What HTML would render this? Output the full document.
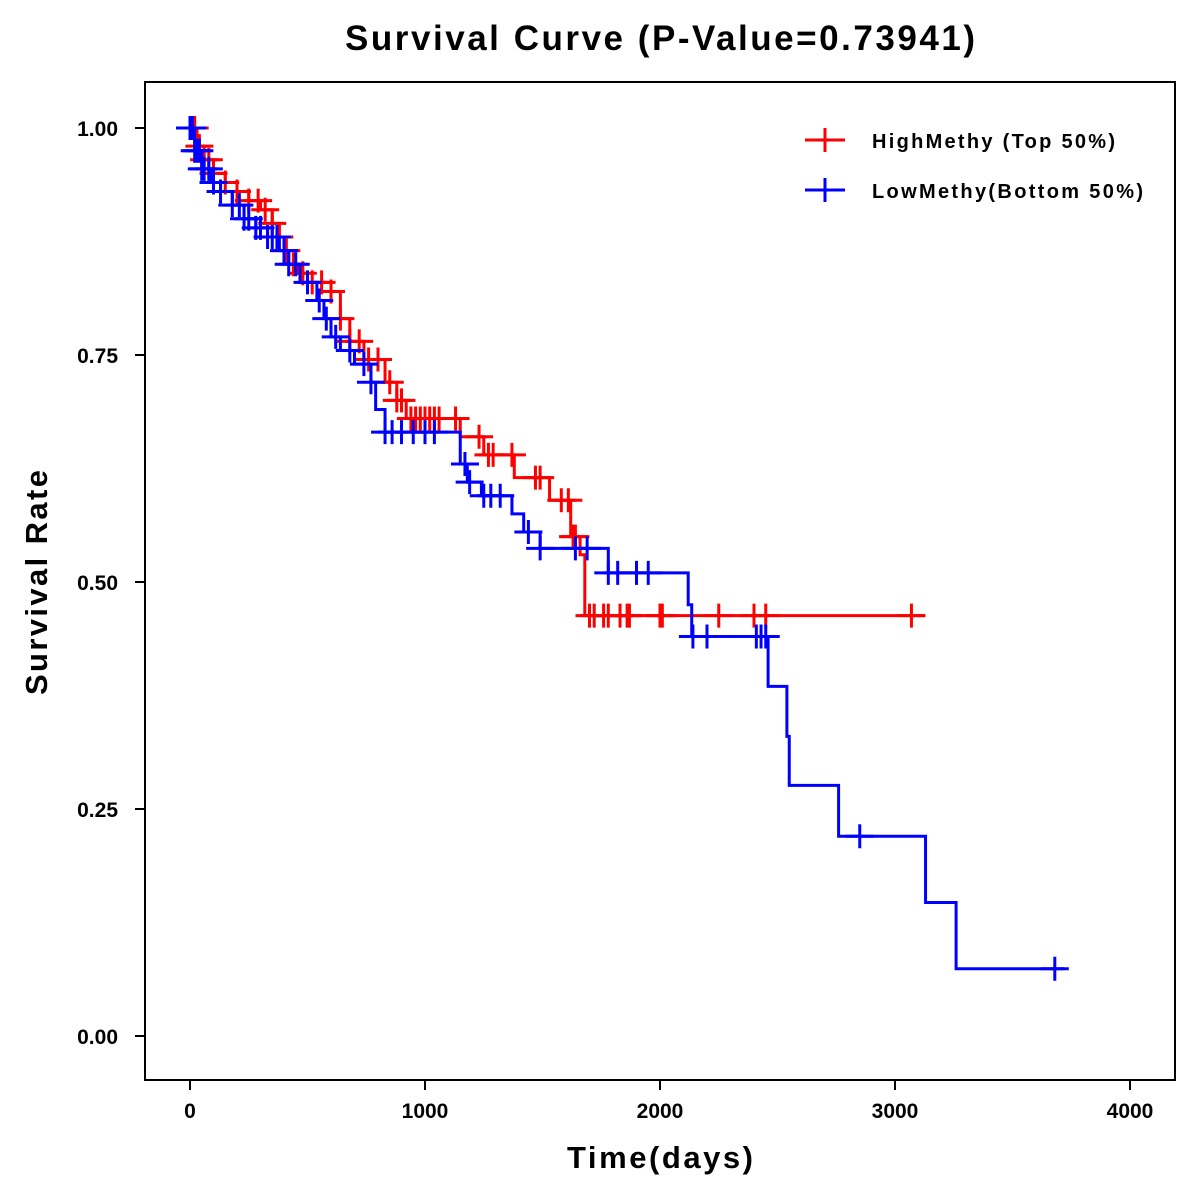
<!DOCTYPE html>
<html><head><meta charset="utf-8"><style>
html,body{margin:0;padding:0;background:#fff;}
svg{display:block;font-family:"Liberation Sans",Arial,sans-serif;font-weight:bold;}
</style></head><body>
<svg id="chart" width="1200" height="1200" viewBox="0 0 1200 1200" xmlns="http://www.w3.org/2000/svg">
<rect width="1200" height="1200" fill="#fff"/>
<text x="345" y="50" font-size="35" textLength="630" lengthAdjust="spacing">Survival Curve (P-Value=0.73941)</text>
<rect x="145" y="82" width="1030" height="998" fill="none" stroke="#000" stroke-width="2"/>
<g id="axes"></g>
<g id="series"></g>
<text x="567" y="1168" font-size="31" textLength="186" lengthAdjust="spacing">Time(days)</text>
<text transform="translate(47,695) rotate(-90)" font-size="31" textLength="225" lengthAdjust="spacing">Survival Rate</text>
<g>
<g>
<line x1="805" y1="140" x2="845" y2="140" stroke="#f00" stroke-width="3"/>
<line x1="825" y1="128" x2="825" y2="152" stroke="#f00" stroke-width="3"/>
<text x="872" y="148" font-size="20" textLength="243" lengthAdjust="spacing">HighMethy (Top 50%)</text></g>
<g>
<line x1="805" y1="190" x2="845" y2="190" stroke="#00f" stroke-width="3"/>
<line x1="825" y1="178" x2="825" y2="202" stroke="#00f" stroke-width="3"/>
<text x="872" y="198" font-size="20" textLength="271" lengthAdjust="spacing">LowMethy(Bottom 50%)</text></g>
</g>
</svg>
<script>
const xTicks=[0,1000,2000,3000,4000];
const yTicks=[0,0.25,0.5,0.75,1.0];
const yTickLabels=["0.00","0.25","0.50","0.75","1.00"];
const highTimes=[0,30,60,100,150,200,250,300,350,380,400,420,460,500,600,640,680,740,830,880,920,1150,1250,1380,1530,1620,1660,1680,3128];
const highSurv=[1.0,0.98,0.965,0.95,0.94,0.93,0.92,0.91,0.895,0.88,0.865,0.85,0.84,0.83,0.82,0.79,0.765,0.745,0.72,0.70,0.68,0.66,0.64,0.615,0.59,0.55,0.53,0.463,0.463];
const highCensor=[20,40,60,80,100,150,200,250,290,320,350,380,410,440,480,520,560,600,640,680,720,760,800,850,880,900,940,960,980,1000,1020,1040,1060,1130,1230,1270,1290,1370,1470,1490,1580,1610,1630,1640,1700,1720,1760,1780,1830,1860,1870,2000,2010,2250,2400,2450,3070];
const lowTimes=[0,20,50,90,130,180,230,280,330,380,420,468,540,570,600,640,700,770,790,830,1150,1180,1240,1370,1420,1490,1780,2120,2135,2460,2540,2550,2760,3130,3260,3720];
const lowSurv=[1.0,0.975,0.955,0.94,0.93,0.915,0.9,0.89,0.88,0.865,0.85,0.83,0.81,0.79,0.77,0.755,0.74,0.72,0.69,0.665,0.63,0.61,0.595,0.575,0.555,0.537,0.51,0.475,0.44,0.385,0.33,0.276,0.22,0.147,0.074,0.074];
const lowCensor=[0,10,20,30,40,50,60,80,100,130,180,210,230,250,280,300,330,350,370,400,420,450,500,550,580,620,680,740,770,830,860,900,950,1000,1040,1170,1190,1250,1280,1320,1440,1490,1640,1690,1780,1820,1900,1950,2140,2200,2410,2430,2450,2850,3680];

const NS="http://www.w3.org/2000/svg";
const x=d=>190+d*0.235;
const y=s=>1036-s*908;
function mk(tag,attrs,parent){const e=document.createElementNS(NS,tag);for(const k in attrs)e.setAttribute(k,attrs[k]);parent.appendChild(e);return e;}
const axes=document.getElementById('axes');
xTicks.forEach(t=>{
  const l=mk('line',{x1:x(t),x2:x(t),y1:1080,y2:1090,stroke:'#000','stroke-width':2},axes);
  
  
  const tx=mk('text',{x:x(t),y:1118,'font-size':21,'text-anchor':'middle'},axes);
  tx.textContent=t;
  
  
});
yTicks.forEach((t,i)=>{
  const l=mk('line',{x1:135,x2:145,y1:y(t),y2:y(t),stroke:'#000','stroke-width':2},axes);
  
  
  const tx=mk('text',{x:118,y:y(t)+8,'font-size':21,'text-anchor':'end'},axes);
  tx.textContent=yTickLabels[i];
  
  
});
const series=document.getElementById('series');
function survAt(times,surv,t){let s=surv[0];for(let i=0;i<times.length;i++){if(times[i]<=t)s=surv[i];}return s;}
function draw(times,surv,cens,color,name){
  let d='M'+x(times[0])+','+y(surv[0]);
  for(let i=1;i<times.length;i++){d+=' H'+x(times[i])+' V'+y(surv[i]);}
  const p=mk('path',{d:d,fill:'none',stroke:color,'stroke-width':3},series);
  
  
  cens.forEach(c=>{
    const cx=x(c),cy=y(survAt(times,surv,c));
    const g=mk('path',{d:'M'+(cx-14)+','+cy+' H'+(cx+14)+' M'+cx+','+(cy-12)+' V'+(cy+12),stroke:color,'stroke-width':3,fill:'none'},series);
    
    
  });
}
draw(highTimes,highSurv,highCensor,'#f00','high-methy');
draw(lowTimes,lowSurv,lowCensor,'#00f','low-methy');
</script>
</body></html>
